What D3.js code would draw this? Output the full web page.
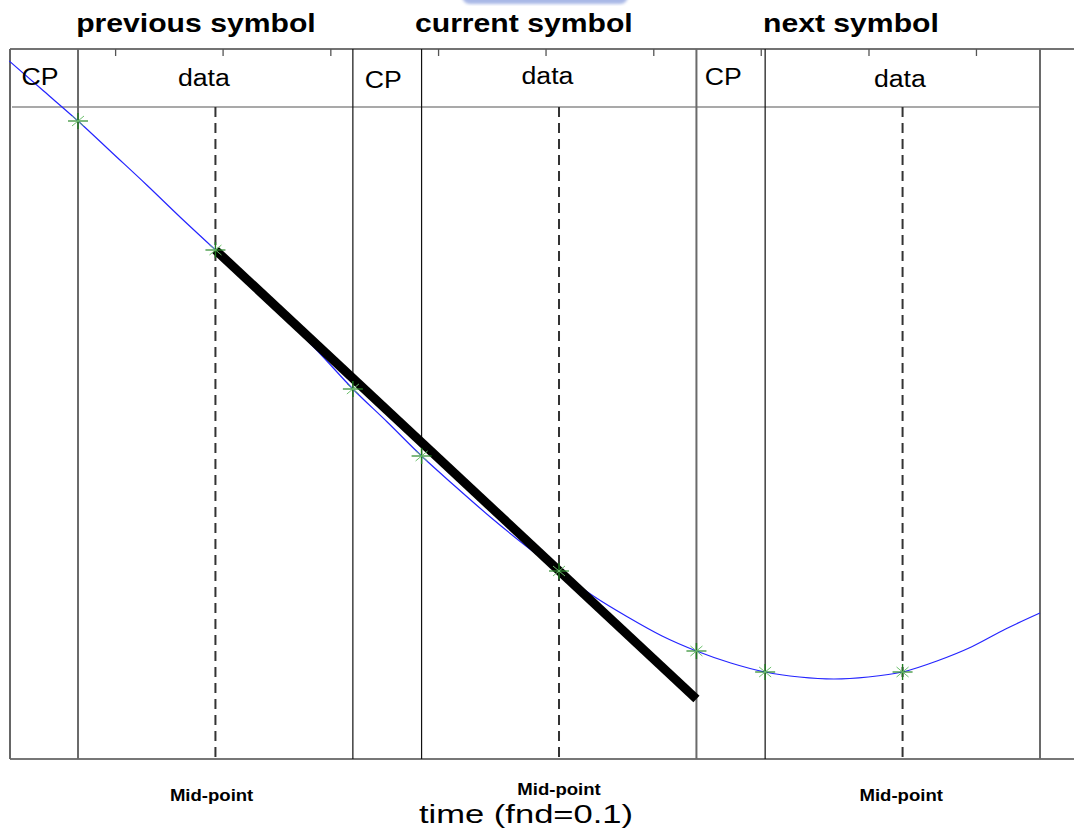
<!DOCTYPE html>
<html>
<head>
<meta charset="utf-8">
<script src="https://cdn.jsdelivr.net/npm/d3@7"></script>
<style>
  body { margin: 0; background: #ffffff; }
  svg { display: block; }
</style>
</head>
<body>
<svg id="chart" width="1074" height="830"></svg>
<script>
// ---- Symbol structure (time in units of one data part; CP = 1/4 of data) ----
const symbolNames   = ["previous symbol", "current symbol", "next symbol"];
const segmentLabels = ["CP", "data", "CP", "data", "CP", "data"];
const boundaryTimes = [0.25, 1.25, 1.5, 2.5, 2.75, 3.75];
const midpointTimes = [0.75, 2.0, 3.25];
const midpointLabel = "Mid-point";
const axisTitle     = "time (fnd=0.1)";
const topTickTimes  = [0.385, 0.776, 1.168, 1.56, 1.951, 2.343, 2.734, 3.126, 3.517];

// ---- Phase trajectory across the three symbols ----
const curveTimes  = [0, 0.125, 0.25, 0.375, 0.5, 0.625, 0.75, 0.875, 1.0, 1.125,
                     1.25, 1.375, 1.5, 1.625, 1.75, 1.875, 2.0, 2.125, 2.25, 2.375,
                     2.5, 2.625, 2.75, 2.875, 3.0, 3.125, 3.25, 3.375, 3.5, 3.625, 3.75];
const curveValues = [6.98, 6.68, 6.38, 6.06, 5.74, 5.41, 5.09, 4.76, 4.42, 4.07,
                     3.70, 3.37, 3.03, 2.72, 2.42, 2.14, 1.88, 1.63, 1.42, 1.23,
                     1.08, 0.96, 0.87, 0.82, 0.80, 0.82, 0.87, 0.98, 1.12, 1.30, 1.46];

// Sampled points on the trajectory
const sampleTimes = [0.25, 0.75, 1.25, 1.5, 2.0, 2.5, 2.75, 3.25];

// Straight-line extrapolation through the two mid-point samples
const fitTimes  = [0.75, 2.5];
const fitValues = [5.09, 0.60];

// ---- Layout ----
const W = 1074, H = 830;
const layout = {
  plotTop: 49, plotBottom: 759, headerY: 107, frameLeft: 10,
  stretch: 1.16,
  titles:   { t: [0.679, 1.872, 3.062], y: 32, size: 26 },
  segments: { t: [0.112, 0.708, 1.361, 1.958, 2.598, 3.24], y: [85, 86, 88, 84, 85, 87], size: 23 },
  mids:     { t: [0.736, 2.0, 3.245], y: [801, 795, 801], size: 16 },
  xTitle:   { x: 526, y: 823, size: 26, stretch: 1.33 }
};

const x = d3.scaleLinear().domain([0, 3.75]).range([9.3, 1040]);
const y = d3.scaleLinear().domain([0, 7.1]).range([layout.plotBottom, layout.plotTop]);

const svg = d3.select("#chart");
const font = "'Liberation Sans', Arial, Helvetica, sans-serif";

// soft blue banner peeking in at the very top
const defs = svg.append("defs");
defs.append("filter").attr("id", "soft")
  .append("feGaussianBlur").attr("stdDeviation", 1.4);
svg.append("rect")
  .attr("x", 462).attr("y", -14).attr("width", 166).attr("height", 18)
  .attr("rx", 8).attr("fill", "#a9b8e6").attr("filter", "url(#soft)");

// horizontally widened text helper
function label(g, str, px, py, size, weight, stretch = layout.stretch) {
  return g.append("text")
    .attr("transform", `translate(${px},${py}) scale(${stretch},1)`)
    .attr("text-anchor", "middle")
    .attr("font-family", font)
    .attr("font-size", size)
    .attr("font-weight", weight)
    .attr("fill", "#000")
    .text(str);
}

const frame = svg.append("g");

// top border and small ticks hanging from it
frame.append("line")
  .attr("x1", layout.frameLeft).attr("x2", W)
  .attr("y1", layout.plotTop).attr("y2", layout.plotTop)
  .attr("stroke", "#444").attr("stroke-width", 1.5);

const tickAxis = d3.axisBottom(x).tickValues(topTickTimes).tickSize(7).tickFormat("");
const tickG = svg.append("g").attr("transform", `translate(0,${layout.plotTop})`).call(tickAxis);
tickG.select(".domain").remove();
tickG.selectAll(".tick line").attr("stroke", "#555").attr("stroke-width", 1.3);

// bottom border
frame.append("line")
  .attr("x1", layout.frameLeft).attr("x2", W)
  .attr("y1", layout.plotBottom).attr("y2", layout.plotBottom)
  .attr("stroke", "#777").attr("stroke-width", 2);

// left border
frame.append("line")
  .attr("x1", layout.frameLeft).attr("x2", layout.frameLeft)
  .attr("y1", layout.plotTop).attr("y2", layout.plotBottom)
  .attr("stroke", "#666").attr("stroke-width", 2);

// header separator
frame.append("line")
  .attr("x1", layout.frameLeft + 2).attr("x2", x(3.75))
  .attr("y1", layout.headerY).attr("y2", layout.headerY)
  .attr("stroke", "#555").attr("stroke-width", 1.2);

// CP / data boundaries (symbol starts drawn grey, CP ends drawn black)
frame.selectAll("line.bound").data(boundaryTimes).join("line")
  .attr("class", "bound")
  .attr("x1", d => x(d)).attr("x2", d => x(d))
  .attr("y1", layout.plotTop).attr("y2", layout.plotBottom)
  .attr("stroke", (d, i) => (i === 0 || i === 3 || i === 5) ? "#6a6a6a" : "#111")
  .attr("stroke-width", (d, i) => (i === 0 || i === 3 || i === 5) ? 2 : 1.2);

// mid-point dashed markers
frame.selectAll("line.mid").data(midpointTimes).join("line")
  .attr("class", "mid")
  .attr("x1", d => x(d)).attr("x2", d => x(d))
  .attr("y1", layout.headerY).attr("y2", layout.plotBottom)
  .attr("stroke", "#333").attr("stroke-width", 2)
  .attr("stroke-dasharray", "10,6");

// trajectory
const curveData = curveTimes.map((t, i) => ({ t, v: curveValues[i] }));
svg.append("path")
  .datum(curveData)
  .attr("fill", "none")
  .attr("stroke", "#2424ff")
  .attr("stroke-width", 1.2)
  .attr("d", d3.line().x(d => x(d.t)).y(d => y(d.v)).curve(d3.curveMonotoneX));

// extrapolation line
const fitData = fitTimes.map((t, i) => ({ t, v: fitValues[i] }));
svg.append("path")
  .datum(fitData)
  .attr("fill", "none")
  .attr("stroke", "#000")
  .attr("stroke-width", 9)
  .attr("d", d3.line().x(d => x(d.t)).y(d => y(d.v)));

// asterisk markers
const samples = sampleTimes.map(t => ({ t, v: curveValues[curveTimes.indexOf(t)] }));
const star = svg.selectAll("g.star").data(samples).join("g")
  .attr("class", "star")
  .attr("transform", d => `translate(${x(d.t)},${y(d.v)})`);
star.append("line").attr("x1", -10).attr("x2", 10).attr("y1", 0).attr("y2", 0)
  .attr("stroke", "#2a8a2a").attr("stroke-width", 1.2);
star.append("line").attr("x1", 0).attr("x2", 0).attr("y1", -8).attr("y2", 8)
  .attr("stroke", "#1f7a1f").attr("stroke-width", 1.4);
star.append("line").attr("x1", -6).attr("x2", 6).attr("y1", -5).attr("y2", 5)
  .attr("stroke", "#6cbf6c").attr("stroke-width", 1);
star.append("line").attr("x1", -6).attr("x2", 6).attr("y1", 5).attr("y2", -5)
  .attr("stroke", "#6cbf6c").attr("stroke-width", 1);

// texts
const textG = svg.append("g");
symbolNames.forEach((s, i) =>
  label(textG, s, x(layout.titles.t[i]), layout.titles.y, layout.titles.size, "bold"));
segmentLabels.forEach((s, i) =>
  label(textG, s, x(layout.segments.t[i]), layout.segments.y[i], layout.segments.size, "normal"));
midpointTimes.forEach((m, i) =>
  label(textG, midpointLabel, x(layout.mids.t[i]), layout.mids.y[i], layout.mids.size, "bold"));
label(textG, axisTitle, layout.xTitle.x, layout.xTitle.y, layout.xTitle.size, "normal", layout.xTitle.stretch);
</script>
</body>
</html>
